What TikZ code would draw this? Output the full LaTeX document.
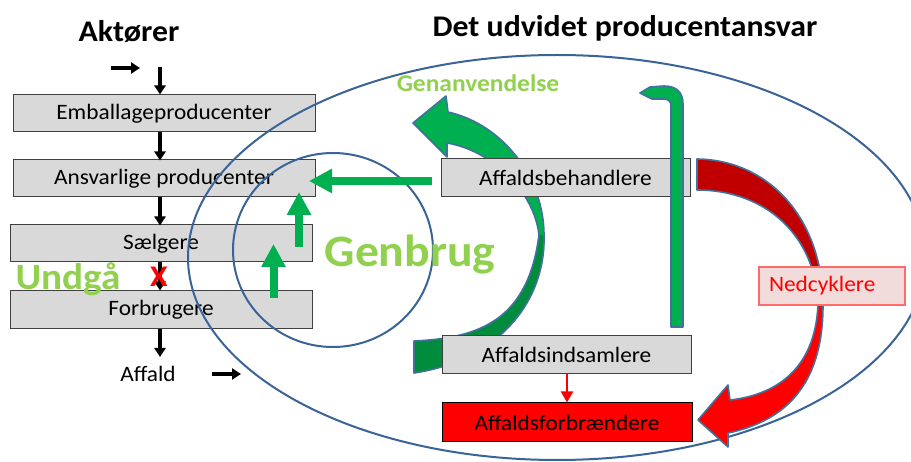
\documentclass[tikz,border=0pt]{standalone}
\usepackage{fontspec}
\setmainfont{Carlito}[FakeStretch=1.06]
\usetikzlibrary{arrows.meta}
\definecolor{boxgray}{HTML}{D9D9D9}
\definecolor{boxborder}{HTML}{404040}
\definecolor{ellblue}{HTML}{3A6497}
\definecolor{outlineblue}{HTML}{41719C}
\definecolor{arrgreen}{HTML}{00B050}
\definecolor{dkgreen}{HTML}{008C3C}
\definecolor{txtgreen}{HTML}{92D050}
\definecolor{dkred}{HTML}{C00000}
\definecolor{nedfill}{HTML}{F2DCDB}
\definecolor{nedborder}{HTML}{FF6B6B}
\begin{document}
\begin{tikzpicture}[x=1pt,y=-1pt,
  box/.style={draw=boxborder, line width=1pt, fill=boxgray, minimum height=37pt, inner sep=0pt, font=\fontsize{22}{26}\selectfont},
  blk/.style={line width=3.5pt, -{Triangle[width=11pt,length=9pt]}},
  garrow/.style={draw=arrgreen, line width=8pt, -{Triangle[width=23pt,length=23pt]}},
  outl/.style={draw=outlineblue, line width=1.6pt, line join=round},
  ring/.style={draw=ellblue, line width=2pt},
  lbl/.style={anchor=base, inner sep=0pt},
]
\useasboundingbox (0,0) rectangle (911,462);
\clip (0,0) rectangle (911,462);
\fill[white] (0,0) rectangle (911,462);

% curved green arrow (Genanvendelse)
\fill[arrgreen] (544,235) .. controls (544,180) and (505,125) .. (448,112) -- (446,96) -- (413,123) -- (447,157) -- (447,143) .. controls (490,150) and (534,190) .. (539,235) -- cycle;
\fill[dkgreen] (414,373) .. controls (500,360) and (546,300) .. (544,235) -- (539,235) .. controls (528,320) and (480,338) .. (414,341) -- cycle;
\draw[outl] (414,373) .. controls (500,360) and (546,300) .. (544,235) .. controls (544,180) and (505,125) .. (448,112) -- (446,96) -- (413,123) -- (447,157) -- (447,143) .. controls (490,150) and (534,190) .. (539,235) .. controls (528,320) and (480,338) .. (414,341) -- cycle;

% left column
\node[font=\bfseries\fontsize{30}{34}\selectfont, lbl] (akt) at (129,42) {Aktører};
\node[box, minimum width=302pt] (emb) at (164,113.5) {Emballageproducenter};
\node[box, minimum width=302pt] (ans) at (164,178.5) {Ansvarlige producenter};
\node[box, minimum width=302pt] (sael) at (161,243.5) {Sælgere};
\node[box, minimum width=302pt, minimum height=38pt] (forb) at (161,310) {Forbrugere};
\node[font=\fontsize{22}{26}\selectfont, lbl] (aff) at (148,382) {Affald};

\coordinate (arrx) at (160,0);
\coordinate (top0) at (160,67);
\coordinate (tl1) at (111,68);
\coordinate (tl2) at (140,68);
\coordinate (bl1) at (212,374);
\coordinate (bl2) at (241,374);
\draw[blk] (tl1) -- (tl2);
\draw[blk] (top0) -- (emb.north -| arrx);
\draw[blk] (emb.south -| arrx) -- ([yshift=-1pt]ans.north -| arrx);
\draw[blk] (ans.south -| arrx) -- ([yshift=-1pt]sael.north -| arrx);
\draw[blk] (sael.south -| arrx) -- (forb.north -| arrx);
\draw[blk] (forb.south -| arrx) -- (160,357);
\draw[blk] (bl1) -- (bl2);

\node[lbl, text=red, font=\bfseries\fontsize{30}{34}\selectfont] (x) at (159,287) {X};
\node[lbl, text=txtgreen, font=\bfseries\fontsize{37}{40}\selectfont] (undga) at (68,290) {Undgå};

% ellipses
\draw[ring] (557,257.5) ellipse [x radius=369pt, y radius=202.5pt];
\draw[ring] (333,250) ellipse [x radius=100pt, y radius=97pt];

% titles
\node[lbl, font=\bfseries\fontsize{30}{34}\selectfont] (title) at (625,37) {Det udvidet producentansvar};
\node[lbl, text=txtgreen, font=\bfseries\fontsize{24}{28}\selectfont] (genanv) at (478,92) {Genanvendelse};
\node[lbl, text=txtgreen, font=\bfseries\fontsize{45}{50}\selectfont] (genbrug) at (410,267) {Genbrug};

% right boxes
\node[box, minimum width=249pt, minimum height=38pt] (beh) at (565.5,178) {Affaldsbehandlere};
\node[box, minimum width=249pt, minimum height=38pt] (ind) at (566.5,355) {Affaldsindsamlere};
\node[box, fill=red, draw=black, minimum width=250pt, minimum height=39pt] (forbr) at (567,422.5) {Affaldsforbrændere};

% green pipe
\draw[outl, fill=arrgreen] (640,93) -- (650,87) -- (664,86) .. controls (676,86) and (683,92) .. (683,104) -- (683,327) -- (671,327) -- (671,106) .. controls (671,101) and (668,99) .. (663,99) -- (652,99) -- cycle;

% red curved arrow (Nedcyklere)
\fill[dkred] (697,159) .. controls (770,160) and (823,220) .. (823,305) -- (818,305) .. controls (816,235) and (765,190) .. (697,190) -- cycle;
\fill[red] (823,305) .. controls (823,380) and (790,420) .. (728,433) -- (728,447) -- (698,420) -- (728,385) -- (730,400) .. controls (775,395) and (815,370) .. (818,305) -- cycle;
\draw[outl] (697,159) .. controls (770,160) and (823,220) .. (823,305) .. controls (823,380) and (790,420) .. (728,433) -- (728,447) -- (698,420) -- (728,385) -- (730,400) .. controls (775,395) and (815,370) .. (818,305) .. controls (816,235) and (765,190) .. (697,190) -- cycle;

\node[draw=nedborder, line width=1.2pt, fill=nedfill, minimum height=38pt, text width=126pt, inner xsep=10pt, inner ysep=0pt, align=left, text=red, font=\fontsize{22}{26}\selectfont] (ned) at (832,286) {Nedcyklere};

% red small arrow
\draw[red, line width=2pt, -{Triangle[width=12pt,length=11pt]}] (ind.south -| 567,0) -- (forbr.north -| 567,0);

% green straight arrows
\draw[garrow] ([xshift=-9pt]beh.west |- 0,181) -- (309,181);
\draw[garrow] (299,247) -- (299,192);
\draw[garrow] (273.5,298) -- (273.5,244);
\end{tikzpicture}
\end{document}
